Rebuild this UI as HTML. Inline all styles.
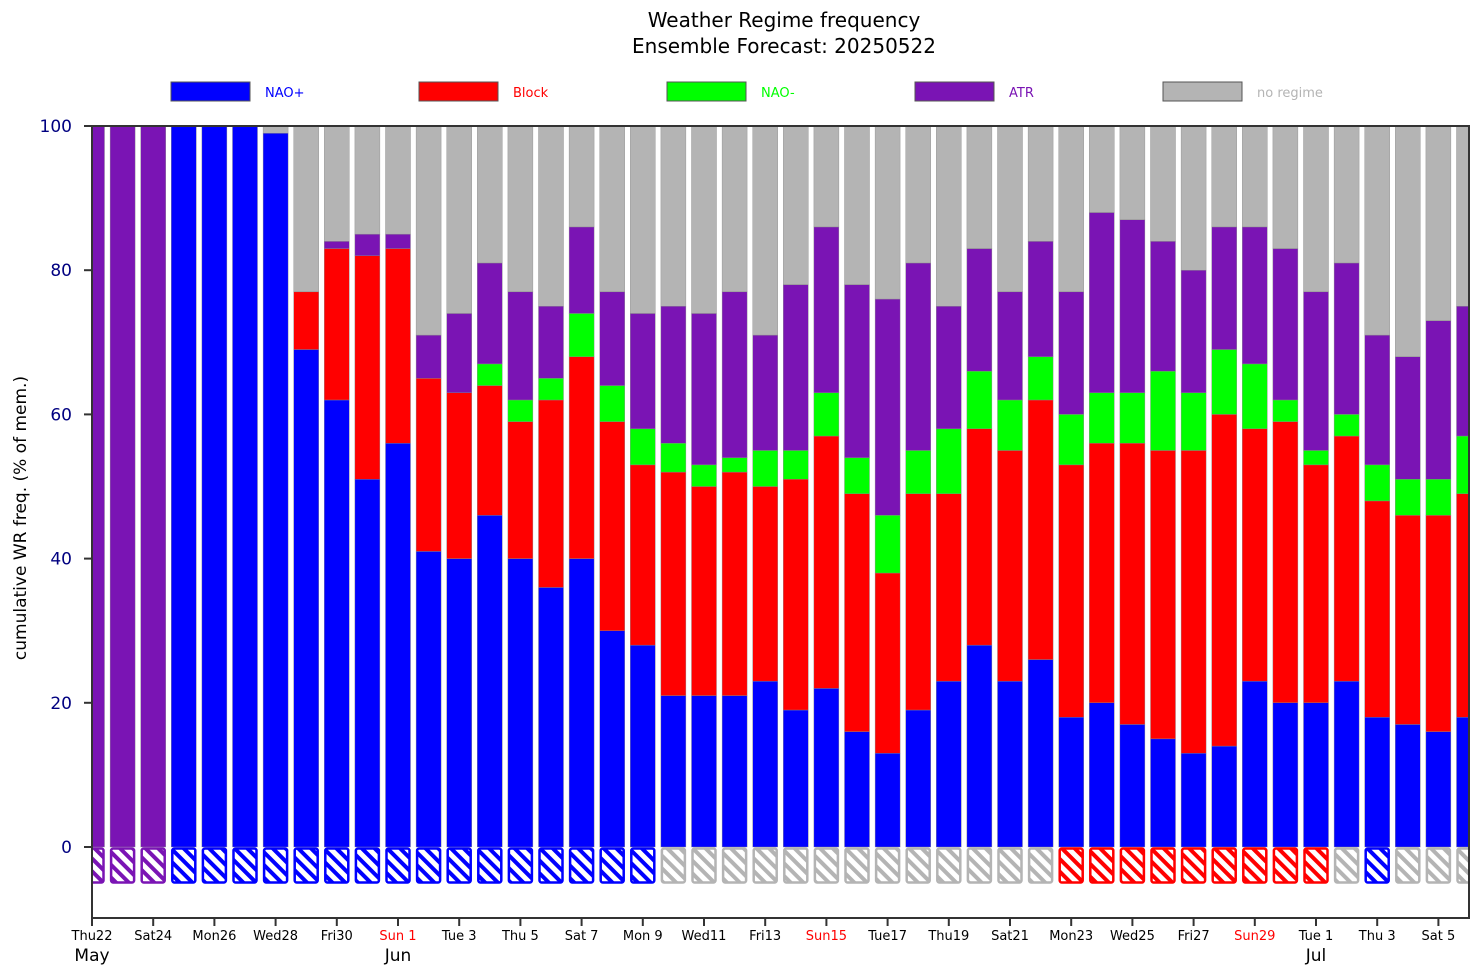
<!DOCTYPE html>
<html><head><meta charset="utf-8"><style>
body{margin:0;background:#fff;}
svg text{font-family:"DejaVu Sans","Liberation Sans",sans-serif;}
</style></head><body>
<svg id="chart" width="1476" height="967" xmlns="http://www.w3.org/2000/svg">
<defs>
<pattern id="hp-blue" width="9" height="9" patternUnits="userSpaceOnUse" patternTransform="rotate(45)"><rect width="9" height="9" fill="#fff"/><rect width="9" height="4" fill="#0000ff"/></pattern>
<pattern id="hp-red" width="9" height="9" patternUnits="userSpaceOnUse" patternTransform="rotate(45)"><rect width="9" height="9" fill="#fff"/><rect width="9" height="4" fill="#ff0000"/></pattern>
<pattern id="hp-purple" width="9" height="9" patternUnits="userSpaceOnUse" patternTransform="rotate(45)"><rect width="9" height="9" fill="#fff"/><rect width="9" height="4" fill="#7a14b4"/></pattern>
<pattern id="hp-grey" width="9" height="9" patternUnits="userSpaceOnUse" patternTransform="rotate(45)"><rect width="9" height="9" fill="#fff"/><rect width="9" height="4" fill="#b4b4b4"/></pattern>
<clipPath id="plotclip"><rect x="92" y="126" width="1377" height="792"/></clipPath>
</defs>
<text x="784" y="27" font-size="20" text-anchor="middle">Weather Regime frequency</text>
<text x="784" y="53" font-size="20" text-anchor="middle">Ensemble Forecast: 20250522</text>
<g id="legend"></g>
<g id="bars" clip-path="url(#plotclip)"></g>
<rect x="92" y="126" width="1377" height="792" fill="none" stroke="#333" stroke-width="2"/>
<g id="axes"></g>
<text transform="translate(26,518) rotate(-90)" font-size="17" text-anchor="middle">cumulative WR freq. (% of mem.)</text>
</svg>
<script>
const days = ["Thu22","Fri23","Sat24","Sun25","Mon26","Tue27","Wed28","Thu29","Fri30","Sat31","Sun 1","Mon 2","Tue 3","Wed 4","Thu 5","Fri 6","Sat 7","Sun 8","Mon 9","Tue10","Wed11","Thu12","Fri13","Sat14","Sun15","Mon16","Tue17","Wed18","Thu19","Fri20","Sat21","Sun22","Mon23","Tue24","Wed25","Thu26","Fri27","Sat28","Sun29","Mon30","Tue 1","Wed 2","Thu 3","Fri 4","Sat 5","Sun 6"];
// cumulative tops
const naoPlus = [0,0,0,100,100,100,99,69,62,51,56,41,40,46,40,36,40,30,28,21,21,21,23,19,22,16,13,19,23,28,23,26,18,20,17,15,13,14,23,20,20,23,18,17,16,18];
const blockTop = [0,0,0,100,100,100,99,77,83,82,83,65,63,64,59,62,68,59,53,52,50,52,50,51,57,49,38,49,49,58,55,62,53,56,56,55,55,60,58,59,53,57,48,46,46,49];
const naoMinusTop = [0,0,0,100,100,100,99,77,83,82,83,65,63,67,62,65,74,64,58,56,53,54,55,55,63,54,46,55,58,66,62,68,60,63,63,66,63,69,67,62,55,60,53,51,51,57];
const atrTop = [100,100,100,100,100,100,99,77,84,85,85,71,74,81,77,75,86,77,74,75,74,77,71,78,86,78,76,81,75,83,77,84,77,88,87,84,80,86,86,83,77,81,71,68,73,75];
const hatchRegime = ["purple","purple","purple","blue","blue","blue","blue","blue","blue","blue","blue","blue","blue","blue","blue","blue","blue","blue","blue","grey","grey","grey","grey","grey","grey","grey","grey","grey","grey","grey","grey","grey","red","red","red","red","red","red","red","red","red","grey","blue","grey","grey","grey"];
const yTicks = [0,20,40,60,80,100];
const tickLabels = ["Thu22","Sat24","Mon26","Wed28","Fri30","Sun 1","Tue 3","Thu 5","Sat 7","Mon 9","Wed11","Fri13","Sun15","Tue17","Thu19","Sat21","Mon23","Wed25","Fri27","Sun29","Tue 1","Thu 3","Sat 5"];
const monthLabels = [["May",0],["Jun",10],["Jul",40]];

const NS="http://www.w3.org/2000/svg";
const X0=92, DX=30.6, BW=25;
const xs = i => X0 + i*DX;
const ys = v => 847 - v*7.21;
const col = {blue:"#0000ff",red:"#ff0000",green:"#00ff00",purple:"#7a14b4",grey:"#b4b4b4"};
function mk(tag, attrs, parent){const e=document.createElementNS(NS,tag);for(const k in attrs)e.setAttribute(k,attrs[k]);parent.appendChild(e);return e;}
const bars=document.getElementById('bars');
days.forEach((d,i)=>{
  const x=xs(i)-BW/2;
  const segs=[[0,naoPlus[i],col.blue,'nao-plus'],[naoPlus[i],blockTop[i],col.red,'block'],[blockTop[i],naoMinusTop[i],col.green,'nao-minus'],[naoMinusTop[i],atrTop[i],col.purple,'atr'],[atrTop[i],100,col.grey,'no-regime']];
  segs.forEach(s=>{
    if(s[1]-s[0]<=0) return;
    const r=mk('rect',{x:x,y:ys(s[1]),width:BW,height:ys(s[0])-ys(s[1]),fill:s[2],stroke:'#8a8a8a','stroke-width':0.4},bars);
    
    
  });
  const h=mk('rect',{x:x+1,y:848.5,width:BW-2,height:34,rx:2,fill:'url(#hp-'+hatchRegime[i]+')',stroke:col[hatchRegime[i]],'stroke-width':2.5},bars);
  
  
});
const axes=document.getElementById('axes');
yTicks.forEach(v=>{
  const l=mk('line',{x1:84,x2:92,y1:ys(v),y2:ys(v),stroke:'#333','stroke-width':2},axes);
  
  
  const t=mk('text',{x:72,y:ys(v)+6,'font-size':17,'text-anchor':'end',fill:'#000080'},axes);
  t.textContent=v;
  
  
});
tickLabels.forEach((lab,k)=>{
  const x=xs(k*2);
  const l=mk('line',{x1:x,x2:x,y1:918,y2:926,stroke:'#333','stroke-width':2},axes);
  
  
  const t=mk('text',{x:x,y:940,'font-size':13,'text-anchor':'middle',fill:lab.startsWith('Sun')?'#ff0000':'#000'},axes);
  t.textContent=lab;
  
  
});
monthLabels.forEach(m=>{
  const t=mk('text',{x:xs(m[1]),y:961,'font-size':17,'text-anchor':'middle'},axes);
  t.textContent=m[0];
  
  
});
const legendItems=[["NAO+",col.blue],["Block",col.red],["NAO-",col.green],["ATR",col.purple],["no regime",col.grey]];
const lg=document.getElementById('legend');
legendItems.forEach((it,k)=>{
  const x=171+k*248;
  const r=mk('rect',{x:x,y:82,width:79,height:19,fill:it[1],stroke:'#555','stroke-width':1},lg);
  
  
  const t=mk('text',{x:x+94,y:97,'font-size':13,fill:it[1]},lg);
  t.textContent=it[0];
  
  
});
</script>
</body></html>
